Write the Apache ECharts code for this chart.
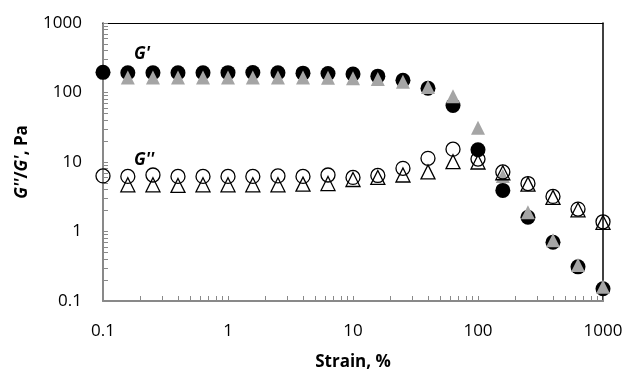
<!DOCTYPE html>
<html>
<head>
<meta charset="utf-8">
<script src="https://cdn.jsdelivr.net/npm/echarts@6/dist/echarts.min.js"></script>
<style>
  html, body { margin: 0; padding: 0; background: #fff; }
  #chart { width: 626px; height: 371px; }
</style>
</head>
<body>
<div id="chart"></div>
<script>
const strain = [0.1, 0.158, 0.251, 0.398, 0.631, 1, 1.58, 2.51, 3.98, 6.31, 10, 15.8, 25.1, 39.8, 63.1, 100, 158, 251, 398, 631, 1000];

// G' (filled markers)
const gPrimeCircle = [195, 192, 192, 192, 192, 193, 194, 192, 190, 188, 185, 172, 150, 115, 65, 15, 3.9, 1.6, 0.7, 0.31, 0.15];
const gPrimeTriangle = [null, 165, 165, 165, 165, 165, 165, 165, 165, 163, 160, 157, 143, 120, 88, 31, 6.3, 1.9, 0.75, 0.33, 0.16];

// G'' (open markers)
const gDoubleCircle = [6.3, 6.2, 6.5, 6.2, 6.2, 6.2, 6.2, 6.3, 6.2, 6.5, 6.0, 6.4, 8.1, 11.3, 15.3, 11, 7.2, 4.9, 3.2, 2.1, 1.38];
const gDoubleTriangle = [null, 4.7, 4.7, 4.6, 4.7, 4.7, 4.7, 4.7, 4.8, 4.9, 5.6, 6.0, 6.5, 7.2, 10.1, 10, 7, 4.8, 3.1, 2.05, 1.35];

const xTicks = [0.1, 1, 10, 100, 1000];
const yTicks = [0.1, 1, 10, 100, 1000];

// minor tick positions (1..9 per decade) in log10 space, for an overlaid value axis
function minorTicksLog(decades) {
  const out = [];
  for (let i = 0; i < decades.length - 1; i++) {
    for (let k = 1; k <= 9; k++) out.push(Math.log10(decades[i] * k));
  }
  out.push(Math.log10(decades[decades.length - 1]));
  return out;
}

function pairs(ys) {
  return strain.map((x, i) => [x, ys[i]]).filter((p) => p[1] != null);
}

const font = "Open Sans";
const axisGray = "#898989";
const plain = (v) => String(v);

function borderAxis(position) {
  return {
    type: "log",
    position: position,
    min: 0.1,
    max: 1000,
    axisLine: { onZero: false, lineStyle: { color: "#000", width: position === "right" ? 1.5 : 1 } },
    axisTick: { show: false },
    axisLabel: { show: false },
    splitLine: { show: false },
  };
}

function tickAxis(position, decades) {
  return {
    type: "value",
    position: position,
    min: Math.log10(decades[0]),
    max: Math.log10(decades[decades.length - 1]),
    axisLine: { show: false, onZero: false },
    axisTick: { inside: true, length: 5, lineStyle: { color: axisGray, width: 1 }, customValues: minorTicksLog(decades) },
    axisLabel: { show: false },
    splitLine: { show: false },
  };
}

const chart = echarts.init(document.getElementById("chart"));
chart.setOption({
  animation: false,
  textStyle: { fontFamily: font },
  grid: { left: 103, right: 23, top: 23, bottom: 70, containLabel: false, outerBoundsMode: "none" },
  xAxis: [
    {
      type: "log",
      min: 0.1,
      max: 1000,
      position: "bottom",
      name: "Strain, %",
      nameLocation: "middle",
      nameGap: 53,
      nameTextStyle: { fontFamily: font, fontSize: 17, fontWeight: "bold", color: "#000" },
      axisLine: { onZero: false, lineStyle: { color: axisGray, width: 2 } },
      axisTick: { show: false },
      axisLabel: { fontSize: 17, color: "#000", margin: 22, customValues: xTicks, formatter: plain },
      splitLine: { show: false },
    },
    borderAxis("top"),
    tickAxis("bottom", xTicks),
  ],
  yAxis: [
    {
      type: "log",
      min: 0.1,
      max: 1000,
      position: "left",
      name: "{i|G''}{b|/}{i|G'}{b|, Pa}",
      nameLocation: "middle",
      nameRotate: 90,
      nameGap: 72,
      nameTextStyle: {
        rich: {
          i: { fontFamily: font, fontSize: 17, fontWeight: "bold", fontStyle: "italic", color: "#000" },
          b: { fontFamily: font, fontSize: 17, fontWeight: "bold", color: "#000" },
        },
      },
      axisLine: { onZero: false, lineStyle: { color: axisGray, width: 2 } },
      axisTick: { show: false },
      axisLabel: { fontSize: 17, color: "#000", margin: 21, customValues: yTicks, formatter: plain },
      splitLine: { show: false },
    },
    borderAxis("right"),
    tickAxis("left", yTicks),
  ],
  graphic: [
    { type: "text", left: 134, top: 46, style: { text: "G'", font: "italic bold 17px 'Open Sans'", fill: "#000" } },
    { type: "text", left: 134, top: 152, style: { text: "G''", font: "italic bold 17px 'Open Sans'", fill: "#000" } },
  ],
  series: [
    {
      type: "scatter",
      clip: false,
      symbol: "circle",
      symbolSize: 15,
      itemStyle: { color: "#000", opacity: 1 },
      data: pairs(gPrimeCircle),
    },
    {
      type: "scatter",
      clip: false,
      symbol: "triangle",
      symbolSize: 14,
      itemStyle: { color: "#a5a5a5", opacity: 1 },
      data: pairs(gPrimeTriangle),
    },
    {
      type: "scatter",
      clip: false,
      symbol: "circle",
      symbolSize: 14,
      itemStyle: { color: "rgba(255,255,255,0)", borderColor: "#000", borderWidth: 1.3, opacity: 1 },
      data: pairs(gDoubleCircle),
    },
    {
      type: "scatter",
      clip: false,
      symbol: "triangle",
      symbolSize: 14,
      itemStyle: { color: "rgba(255,255,255,0)", borderColor: "#000", borderWidth: 1.3, opacity: 1 },
      data: pairs(gDoubleTriangle),
    },
  ],
});
</script>
</body>
</html>
